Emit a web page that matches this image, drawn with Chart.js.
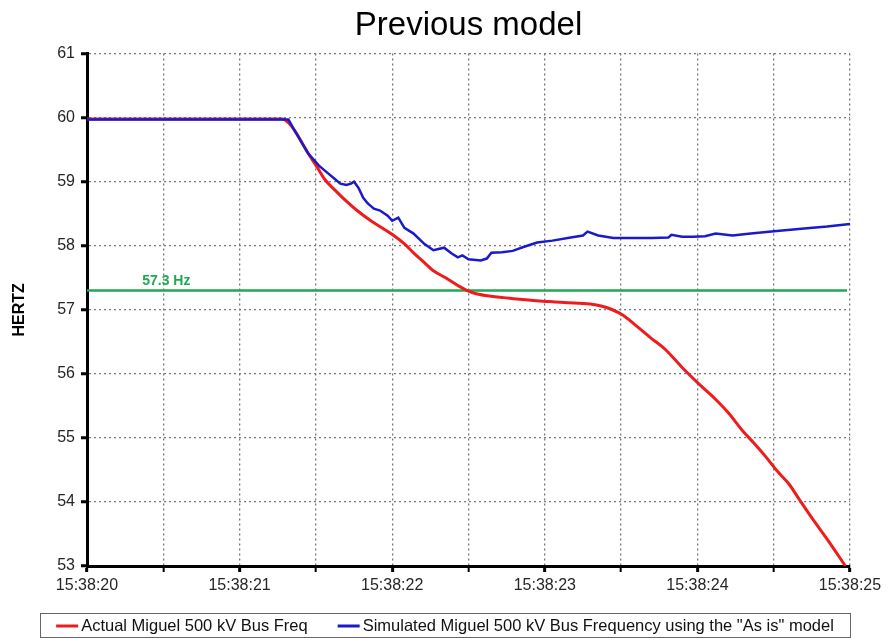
<!DOCTYPE html>
<html>
<head>
<meta charset="utf-8">
<script src="https://cdn.jsdelivr.net/npm/chart.js@4/dist/chart.umd.min.js"></script>
<style>
html,body{margin:0;padding:0;background:#fff;}
#wrap{width:888px;height:638px;position:relative;}
</style>
</head>
<body>
<div id="wrap"><canvas id="c" width="888" height="638"></canvas></div>
<script>
// ---- data (seconds after 15:38:20, Hz) ----
const chartTitle = 'Previous model';
const yTitle = 'HERTZ';
const tickLabels = ['15:38:20','15:38:21','15:38:22','15:38:23','15:38:24','15:38:25'];

const actualLabel = 'Actual Miguel 500 kV Bus Freq';
const actualTime = [0,1.28,1.32,1.36,1.45,1.51,1.56,1.62,1.68,1.77,1.86,1.94,2.01,2.08,2.14,2.20,2.27,2.35,2.43,2.50,2.55,2.65,2.73,2.85,3.02,3.15,3.25,3.33,3.40,3.51,3.60,3.69,3.79,3.90,4.02,4.12,4.20,4.30,4.37,4.45,4.52,4.60,4.67,4.75,4.85,4.97];
const actualFreq = [59.98,59.98,59.92,59.80,59.44,59.22,59.03,58.88,58.74,58.55,58.39,58.27,58.16,58.03,57.89,57.76,57.61,57.50,57.38,57.29,57.25,57.21,57.19,57.16,57.13,57.11,57.10,57.08,57.04,56.92,56.75,56.57,56.38,56.10,55.82,55.60,55.40,55.10,54.92,54.70,54.49,54.28,54.03,53.75,53.42,53.00];

const simLabel = 'Simulated Miguel 500 kV Bus Frequency using the "As is" model';
const simTime = [0,1.32,1.36,1.45,1.52,1.58,1.62,1.66,1.70,1.73,1.75,1.78,1.81,1.84,1.88,1.92,1.97,2.00,2.04,2.08,2.14,2.21,2.27,2.34,2.39,2.43,2.46,2.50,2.58,2.62,2.65,2.72,2.79,2.86,2.95,3.05,3.17,3.25,3.28,3.35,3.45,3.55,3.70,3.81,3.83,3.90,3.97,4.05,4.12,4.23,4.35,4.52,4.70,4.85,5.00];
const simFreq = [59.97,59.97,59.80,59.44,59.25,59.13,59.05,58.97,58.95,58.97,59.00,58.90,58.75,58.66,58.58,58.55,58.47,58.39,58.44,58.28,58.19,58.03,57.93,57.97,57.88,57.82,57.85,57.79,57.77,57.80,57.89,57.90,57.92,57.98,58.05,58.08,58.13,58.16,58.22,58.16,58.12,58.12,58.12,58.13,58.17,58.14,58.14,58.15,58.19,58.16,58.19,58.23,58.27,58.30,58.34];

const threshLabel = '57.3 Hz';
const threshTime = [0, 4.98];
const threshFreq = [57.3, 57.3];
const threshLabelAt = 0.52;

// ---- build ----
const pts = (xs, ys) => xs.map((x, i) => ({x: x, y: ys[i]}));
const FONT = '"Liberation Sans", Arial, sans-serif';
const RED = '#ee1c1c', BLUE = '#1a1acc', GREEN = '#22a852';

const legendBox = {
  id: 'legendBox',
  afterDraw(chart) {
    const ctx = chart.ctx;
    const items = chart.data.datasets.filter(d => d.inLegend).sort((a, b) => a.legendOrder - b.legendOrder);
    ctx.save();
    ctx.font = '16.5px ' + FONT;
    const sample = 22, gap = 3, between = 30;
    const widths = items.map(d => ctx.measureText(d.label).width);
    let total = 0;
    widths.forEach((w, i) => { total += sample + gap + w + (i ? between : 0); });
    const boxL = 40, boxR = 850, boxT = 613, boxB = 637;
    ctx.strokeStyle = '#666'; ctx.lineWidth = 1;
    ctx.strokeRect(boxL + 0.5, boxT + 0.5, boxR - boxL, boxB - boxT);
    let x = (boxL + boxR) / 2 - total / 2;
    const y = (boxT + boxB) / 2 + 1;
    ctx.textBaseline = 'middle'; ctx.textAlign = 'left';
    items.forEach((d, i) => {
      if (i) x += between;
      ctx.strokeStyle = d.borderColor; ctx.lineWidth = 3;
      ctx.beginPath(); ctx.moveTo(x, y); ctx.lineTo(x + sample, y); ctx.stroke();
      x += sample + gap;
      ctx.fillStyle = '#111';
      ctx.fillText(d.label, x, y);
      x += widths[i];
    });
    // threshold label
    const xs = chart.scales.x, ys = chart.scales.y;
    ctx.font = 'bold 14px ' + FONT;
    ctx.fillStyle = GREEN; ctx.textAlign = 'center'; ctx.textBaseline = 'alphabetic';
    ctx.fillText(threshLabel, xs.getPixelForValue(threshLabelAt), ys.getPixelForValue(threshFreq[0]) - 6);
    ctx.restore();
  }
};

new Chart(document.getElementById('c'), {
  type: 'line',
  data: {
    datasets: [
      {label: threshLabel, data: pts(threshTime, threshFreq), borderColor: GREEN, borderWidth: 2.5, pointRadius: 0, inLegend: false, order: 3},
      {label: simLabel, data: pts(simTime, simFreq), borderColor: BLUE, borderWidth: 2.5, pointRadius: 0, tension: 0, inLegend: true, legendOrder: 2, order: 1},
      {label: actualLabel, data: pts(actualTime, actualFreq), borderColor: RED, borderWidth: 3, pointRadius: 0, cubicInterpolationMode: 'monotone', inLegend: true, legendOrder: 1, order: 2}
    ]
  },
  options: {
    responsive: false,
    animation: false,
    layout: {padding: {left: 0, right: 38, top: 0, bottom: 40}},
    plugins: {
      legend: {display: false},
      tooltip: {enabled: false},
      title: {
        display: true, text: chartTitle, fullSize: false,
        color: '#000', font: {family: FONT, size: 33, weight: 'normal'},
        padding: {top: 6, bottom: 8}
      }
    },
    scales: {
      x: {
        type: 'linear', min: 0, max: 5,
        afterFit(s) { s.height = 32; },
        ticks: {
          stepSize: 0.5, autoSkip: false, maxRotation: 0, padding: 4,
          color: '#262626', font: {family: FONT, size: 16},
          callback: (v) => Number.isInteger(v) ? tickLabels[v] : ''
        },
        grid: {
          color: '#777', lineWidth: 1.3, tickLength: 6,
          tickColor: '#000', tickBorderDash: [1, 0],
          tickWidth: (c) => (c.tick && Number.isInteger(c.tick.value)) ? 3 : 2
        },
        border: {display: true, color: '#000', width: 3, dash: [2, 3]}
      },
      y: {
        type: 'linear', min: 53, max: 61,
        afterFit(s) { s.width = 87; },
        ticks: {stepSize: 1, padding: 6, color: '#262626', font: {family: FONT, size: 16}},
        title: {display: true, text: yTitle, color: '#000', font: {family: FONT, size: 16, weight: 'bold'}, padding: {top: 10, bottom: 0}},
        grid: {
          color: '#777', lineWidth: 1.3, tickLength: 6,
          tickColor: '#000', tickBorderDash: [1, 0], tickWidth: 3
        },
        border: {display: true, color: '#000', width: 3, dash: [2, 3]}
      }
    }
  },
  plugins: [legendBox]
});
</script>
</body>
</html>
